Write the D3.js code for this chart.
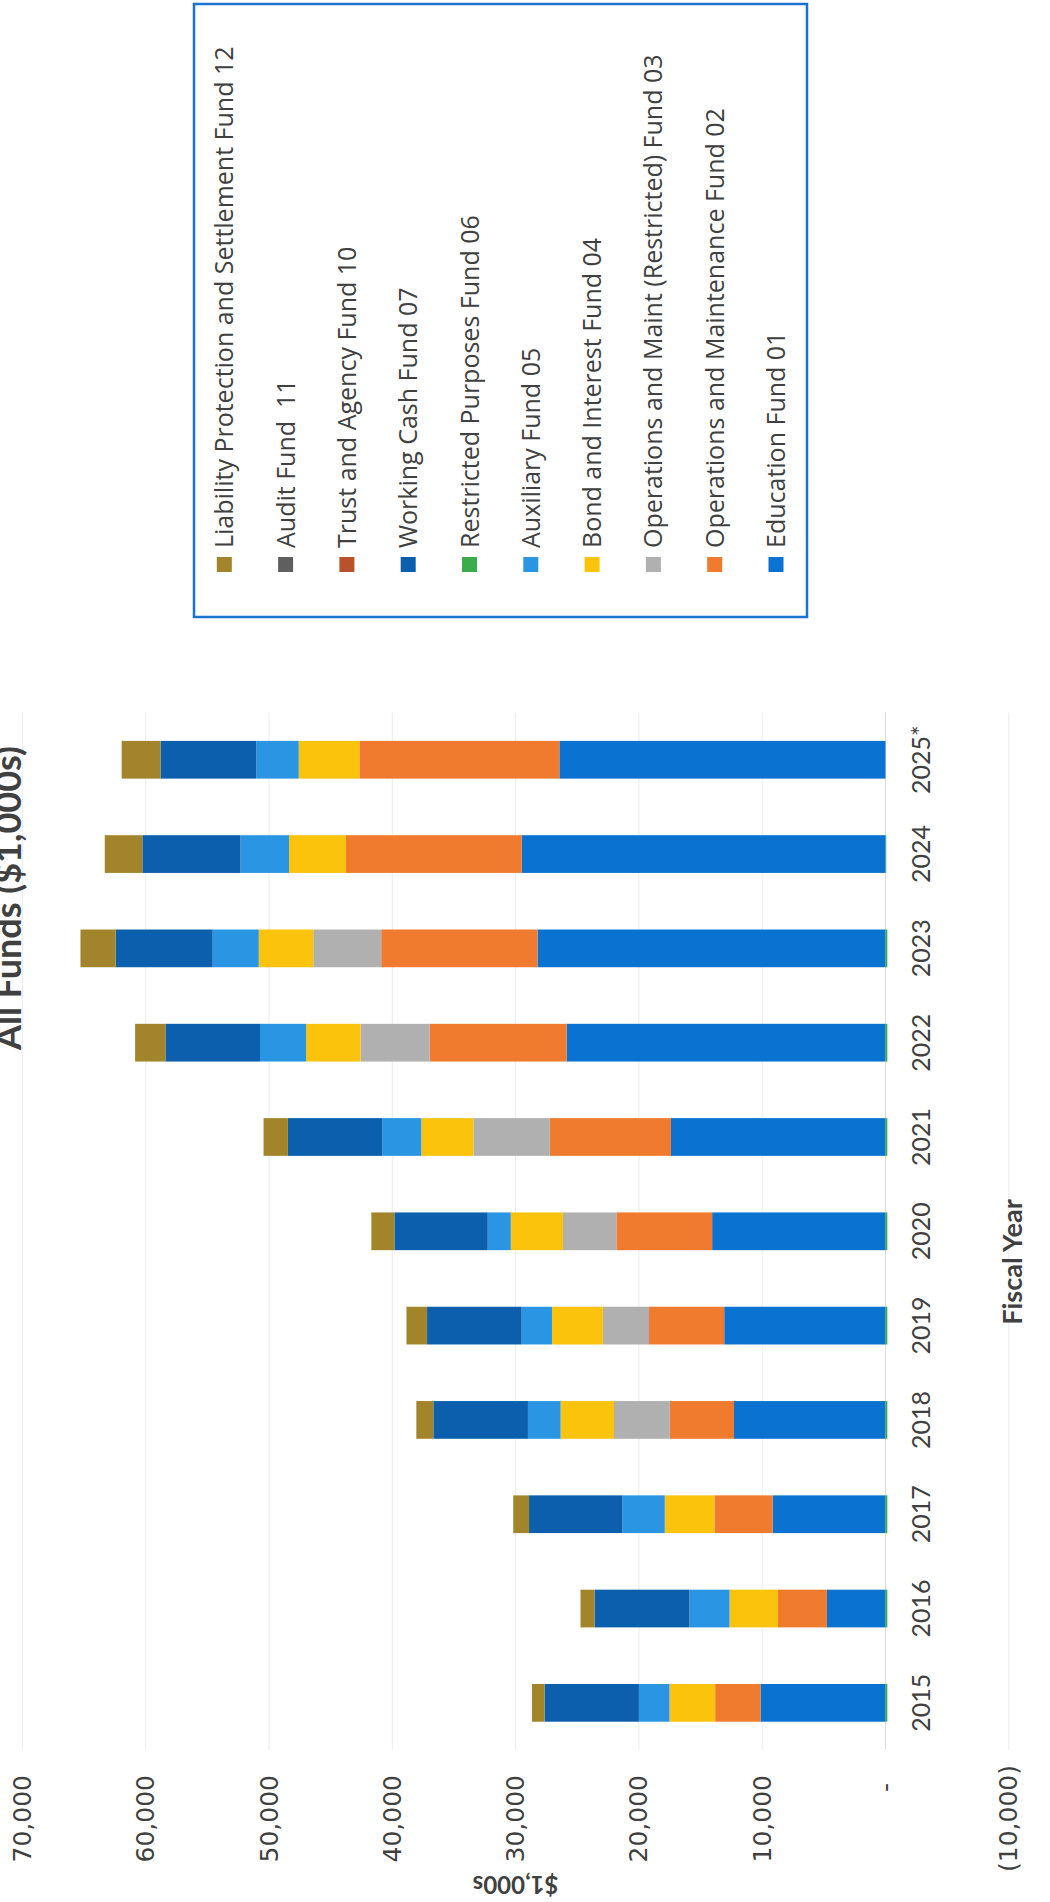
<!DOCTYPE html>
<html>
<head>
<meta charset="utf-8">
<script src="https://cdn.jsdelivr.net/npm/d3@7"></script>
<style>
  body { margin: 0; background: #fff; }
  svg { display: block; }
  text { white-space: pre; }
</style>
</head>
<body>
<svg id="chart" width="1050" height="1902"></svg>
<script>
// chart is printed sideways on the page: it is drawn landscape and turned -90deg
const years = ['2015', '2016', '2017', '2018', '2019', '2020', '2021', '2022', '2023', '2024', '2025*']

const education01 = [10140, 4750, 9150, 12290, 13080, 14060, 17400, 25860, 28220, 29500, 26450]
const opsMaint02 = [3675, 3975, 4720, 5210, 6100, 7770, 9830, 11110, 12680, 14260, 16220]
const opsMaintRestricted03 = [0, 0, 0, 4520, 3740, 4330, 6190, 5600, 5510, 0, 0]
const bondInterest04 = [3705, 3925, 4030, 4330, 4130, 4230, 4230, 4420, 4420, 4620, 4920]
const auxiliary05 = [2480, 3245, 3440, 2650, 2460, 1870, 3150, 3740, 3740, 3930, 3440]
const restrictedPurposes06 = [-150, -150, -150, -150, -150, -150, -150, -150, -150, -60, 0]
const workingCash07 = [7655, 7705, 7570, 7670, 7670, 7570, 7670, 7670, 7870, 7960, 7770]
const trustAgency10 = [0, 0, 0, 0, 0, 0, 0, 0, 0, 0, 0]
const audit11 = [0, 0, 0, 0, 0, 0, 0, 0, 0, 0, 0]
const liability12 = [1020, 1135, 1280, 1380, 1670, 1870, 1970, 2460, 2850, 3050, 3150]

const seriesNames = [
  'Education Fund 01',
  'Operations and Maintenance Fund 02',
  'Operations and Maint (Restricted) Fund 03',
  'Bond and Interest Fund 04',
  'Auxiliary Fund 05',
  'Restricted Purposes Fund 06',
  'Working Cash Fund 07',
  'Trust and Agency Fund 10',
  'Audit Fund  11',
  'Liability Protection and Settlement Fund 12',
]
const seriesValues = [
  education01, opsMaint02, opsMaintRestricted03, bondInterest04, auxiliary05,
  restrictedPurposes06, workingCash07, trustAgency10, audit11, liability12,
]
const seriesColors = [
  '#0a72d1', '#f07a2e', '#b0b0b0', '#fcc30c', '#2a96e3',
  '#3aac4c', '#0c5fad', '#b9522a', '#5f5f5f', '#a2852a',
]
const yTicks = [-10000, 0, 10000, 20000, 30000, 40000, 50000, 60000, 70000]

const W = 1902

const rows = years.map((yr, i) => {
  const row = { year: yr }
  seriesNames.forEach((name, k) => { row[name] = seriesValues[k][i] })
  return row
})

const stacked = d3.stack()
  .keys(seriesNames)
  .order(d3.stackOrderNone)
  .offset(d3.stackOffsetDiverging)(rows)

const svg = d3.select('#chart')
const g = svg.append('g').attr('transform', `translate(0,${W}) rotate(-90)`)

const x = d3.scaleBand()
  .domain(years)
  .range([152, 1189.4])
  .paddingInner(0.6)
  .paddingOuter(0.3)

const y = d3.scaleLinear()
  .domain([-10000, 70000])
  .range([1008.8, 22.4])

// gridlines
g.append('g')
  .selectAll('line')
  .data(yTicks)
  .join('line')
  .attr('x1', 152)
  .attr('x2', 1189.4)
  .attr('y1', (d) => y(d))
  .attr('y2', (d) => y(d))
  .attr('stroke', (d) => (d === 0 ? '#dcdcdc' : '#ececec'))
  .attr('stroke-width', 1)

// bars
g.append('g')
  .selectAll('g')
  .data(stacked)
  .join('g')
  .attr('fill', (d, i) => seriesColors[i])
  .selectAll('rect')
  .data((d) => d)
  .join('rect')
  .attr('x', (d) => x(d.data.year))
  .attr('width', x.bandwidth())
  .attr('y', (d) => y(Math.max(d[0], d[1])))
  .attr('height', (d) => Math.abs(y(d[0]) - y(d[1])))

// value axis labels (accounting style)
const fmt = d3.format(',')
const yAxis = d3.axisLeft(y)
  .tickValues(yTicks)
  .tickSize(0)
  .tickPadding(0)
  .tickFormat((d) => (d === 0 ? '-' : d < 0 ? `(${fmt(-d)})` : fmt(d)))

const yAxisG = g.append('g')
  .attr('transform', 'translate(137,0)')
  .call(yAxis)
yAxisG.select('.domain').remove()
yAxisG.selectAll('text')
  .attr('font-family', '"DejaVu Sans", sans-serif')
  .attr('font-size', 25)
  .attr('fill', '#404040')
  .attr('dx', (d) => (d < 0 ? 0 : d === 0 ? -18 : -10))

// category labels next to the zero line
const xAxis = d3.axisBottom(x).tickSize(0).tickPadding(0)
const xAxisG = g.append('g')
  .attr('transform', `translate(0,${y(0)})`)
  .call(xAxis)
xAxisG.select('.domain').remove()
xAxisG.selectAll('text')
  .attr('font-family', 'Lato, sans-serif')
  .attr('font-size', 25)
  .attr('fill', '#404040')
  .attr('dy', null)
  .attr('y', 44)

// axis titles
g.append('text')
  .attr('transform', `translate(18,${(y(70000) + y(-10000)) / 2}) rotate(-90)`)
  .attr('text-anchor', 'middle')
  .attr('dy', '0.35em')
  .attr('font-family', 'Lato, sans-serif')
  .attr('font-weight', 'bold')
  .attr('font-size', 24)
  .attr('fill', '#404040')
  .text('$1,000s')

g.append('text')
  .attr('x', 640)
  .attr('y', 1022)
  .attr('text-anchor', 'middle')
  .attr('font-family', 'Lato, sans-serif')
  .attr('font-weight', 'bold')
  .attr('font-size', 27)
  .attr('fill', '#404040')
  .text('Fiscal Year')

g.append('text')
  .attr('x', 1004)
  .attr('y', 21)
  .attr('text-anchor', 'middle')
  .attr('font-family', 'Lato, sans-serif')
  .attr('font-weight', 'bold')
  .attr('font-size', 36)
  .attr('fill', '#404040')
  .text('All Funds ($1,000s)')

// legend
const legendOrder = d3.range(seriesNames.length).reverse()
const legend = g.append('g')
legend.append('rect')
  .attr('x', 1285)
  .attr('y', 194)
  .attr('width', 613)
  .attr('height', 613)
  .attr('fill', 'none')
  .attr('stroke', '#1a73d0')
  .attr('stroke-width', 2.5)

const item = legend.selectAll('g.item')
  .data(legendOrder)
  .join('g')
  .attr('class', 'item')
  .attr('transform', (d, j) => `translate(1330,${224.3 + j * 61.3})`)

item.append('rect')
  .attr('x', 0)
  .attr('y', -7.5)
  .attr('width', 15)
  .attr('height', 15)
  .attr('fill', (k) => seriesColors[k])

item.append('text')
  .attr('x', 24)
  .attr('dy', '0.36em')
  .attr('font-family', '"Open Sans", sans-serif')
  .attr('font-size', 25)
  .attr('fill', '#404040')
  .text((k) => seriesNames[k])
</script>
</body>
</html>
